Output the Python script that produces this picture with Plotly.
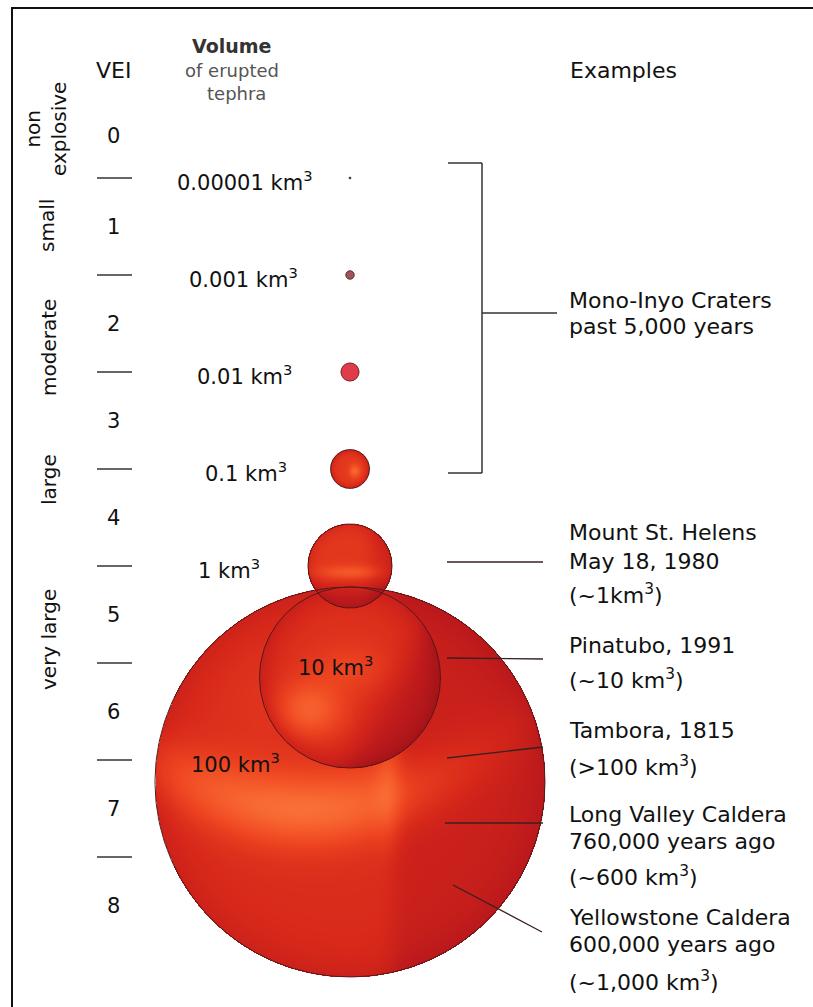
import numpy as np
import plotly.graph_objects as go

# ---------------- data ----------------
vei_levels = [0, 1, 2, 3, 4, 5, 6, 7, 8]
size_classes = ["non<br>explosive", "small", "moderate", "large", "very large"]
boundary_vei = [0.5, 1.5, 2.5, 3.5, 4.5, 5.5, 6.5, 7.5]
sphere_volumes_km3 = [0.00001, 0.001, 0.01, 0.1, 1, 10, 100]
volume_labels = ["0.00001 km<sup>3</sup>", "0.001 km<sup>3</sup>", "0.01 km<sup>3</sup>",
                 "0.1 km<sup>3</sup>", "1 km<sup>3</sup>", "10 km<sup>3</sup>", "100 km<sup>3</sup>"]
example_names = ["Mono-Inyo Craters", "Mount St. Helens", "Pinatubo, 1991",
                 "Tambora, 1815", "Long Valley Caldera", "Yellowstone Caldera"]
example_dates = ["past 5,000 years", "May 18, 1980", "", "", "760,000 years ago", "600,000 years ago"]
example_volumes = ["", "(~1km<sup>3</sup>)", "(~10 km<sup>3</sup>)", "(>100 km<sup>3</sup>)",
                   "(~600 km<sup>3</sup>)", "(~1,000 km<sup>3</sup>)"]
mono_inyo_vei_range = [0.5, 3.5]

# ---------------- layout helpers (pixel -> VEI units) ----------------
W, H = 813, 1007
U = 97.0          # pixels per VEI step
Y0 = 129.5        # pixel row of VEI 0
def xu(px): return px / U
def yu(py): return (py - Y0) / U

FONT = "DejaVu Sans"
INK = "#111111"
K = 42.0 / U      # radius of a 1 km3 sphere in VEI units (r ~ volume^(1/3))
def radius(v): return K * v ** (1.0 / 3.0)

CX = xu(350)
r1 = radius(1)
top_big = 4.5 + 0.5 * r1

def center_y(i, v):
    if v <= 1:
        return boundary_vei[i]
    return top_big + radius(v)

sig = lambda t: 1.0 / (1.0 + np.exp(-t))

def shade_big(u, v):
    rho2 = u * u + v * v
    z = 0.53 + 0.05 * np.exp(-((u + 0.4) ** 2 + (v + 0.45) ** 2) / 0.12)
    band_c = 0.14 - 0.35 * (u + 0.2) ** 2
    z = z + 0.40 * np.exp(-((v - band_c) / 0.19) ** 2) * np.exp(-((u + 0.25) / 0.8) ** 2)
    z = z + 0.14 * np.exp(-((u - 0.2) / 0.07) ** 2 - ((v + 0.05) / 0.35) ** 2)
    z = z - 0.13 * sig((u - 0.22) / 0.03)
    z = z - 0.12 * rho2 ** 4
    return z

def shade_ten(u, v):
    rho2 = u * u + v * v
    z = 0.56
    z = z + 0.30 * np.exp(-((u + 0.45) / 0.35) ** 2 - ((v - 0.35) / 0.3) ** 2)
    z = z + 0.12 * np.exp(-(u / 0.4) ** 2 - ((v + 0.1) / 0.25) ** 2)
    z = z - 0.25 * sig((u + 0.6 * v - 0.55) / 0.12)
    z = z - 0.18 * rho2 ** 3
    return z

def shade_one(u, v):
    rho2 = u * u + v * v
    z = 0.6
    z = z + 0.22 * np.exp(-((v - 0.15) / 0.16) ** 2 - (u / 0.7) ** 2)
    z = z - 0.28 * sig((v - 0.5) / 0.12)
    z = z - 0.1 * sig((u - 0.5) / 0.1)
    z = z - 0.12 * rho2 ** 3
    return z

def shade_tenth(u, v):
    rho2 = u * u + v * v
    return 0.6 + 0.3 * np.exp(-((u - 0.25) / 0.3) ** 2 - ((v - 0.1) / 0.35) ** 2) - 0.2 * rho2 ** 3

shaders = {0.1: shade_tenth, 1: shade_one, 10: shade_ten, 100: shade_big}

COLORSCALE = [[0.0, "rgb(140,15,20)"], [0.3, "rgb(188,25,28)"], [0.5, "rgb(215,40,26)"],
              [0.7, "rgb(238,70,33)"], [0.85, "rgb(246,95,45)"], [1.0, "rgb(252,122,62)"]]
OUTLINE = "rgb(85,25,25)"

fig = go.Figure()

# big shaded spheres, largest first
big_idx = [i for i, v in enumerate(sphere_volumes_km3) if v in shaders]
for i in sorted(big_idx, key=lambda k: -sphere_volumes_km3[k]):
    v = sphere_volumes_km3[i]
    r = radius(v)
    cy = center_y(i, v)
    n = int(np.ceil(2 * r * U)) + 2
    xs = np.linspace(CX - r, CX + r, n)
    ys = np.linspace(cy - r, cy + r, n)
    X, Y = np.meshgrid(xs, ys)
    uu, vv = (X - CX) / r, (Y - cy) / r
    z = np.clip(shaders[v](uu, vv), 0, 1)
    z[uu * uu + vv * vv > 1.0] = np.nan
    fig.add_trace(go.Heatmap(x=xs, y=ys, z=z.astype(np.float32), colorscale=COLORSCALE,
                             zmin=0, zmax=1, showscale=False, zsmooth=False, hoverinfo="skip"))
    t = np.linspace(0, 2 * np.pi, 240)
    fig.add_trace(go.Scatter(x=CX + r * np.cos(t), y=cy + r * np.sin(t), mode="lines",
                             line=dict(color=OUTLINE, width=1), hoverinfo="skip"))

shapes = []
# tiny spheres
tiny_style = {0.00001: ("rgb(90,60,60)", "rgb(60,40,40)"),
              0.001: ("rgb(160,85,90)", "rgb(95,45,45)"),
              0.01: ("rgb(222,60,75)", "rgb(125,30,35)")}
for i, v in enumerate(sphere_volumes_km3):
    if v in tiny_style:
        r = radius(v)
        cy = center_y(i, v)
        fc, lc = tiny_style[v]
        shapes.append(dict(type="circle", xref="x", yref="y", x0=CX - r, x1=CX + r,
                           y0=cy - r, y1=cy + r, fillcolor=fc, line=dict(color=lc, width=1)))

# VEI dividers
for b in boundary_vei:
    shapes.append(dict(type="line", xref="x", yref="y", x0=xu(97), x1=xu(132), y0=b, y1=b,
                       line=dict(color="#333", width=1.5)))

# bracket for Mono-Inyo
bt, bb = mono_inyo_vei_range[0] - 0.155, mono_inyo_vei_range[1] + 0.04
bm = (bt + bb) / 2 - 0.05
for (x0, y0, x1, y1) in [(448, bt, 482, bt), (482, bt, 482, bb), (448, bb, 482, bb), (482, bm, 557, bm)]:
    shapes.append(dict(type="line", xref="x", yref="y", x0=xu(x0), x1=xu(x1), y0=y0, y1=y1,
                       line=dict(color="#333", width=1.5)))

# pointer lines (pixel layout positions)
pointers = [((447, 562), (543, 562)), ((447, 658), (543, 659)), ((447, 758), (543, 747)),
            ((445, 823), (543, 823)), ((453, 885), (542, 932))]
for (a, b) in pointers:
    shapes.append(dict(type="line", xref="x", yref="y", x0=xu(a[0]), y0=yu(a[1]),
                       x1=xu(b[0]), y1=yu(b[1]), line=dict(color="#3a2020", width=1.3)))

# frame
shapes.append(dict(type="line", xref="x", yref="y", x0=xu(11), x1=xu(W), y0=yu(8), y1=yu(8),
                   line=dict(color="#111", width=2)))
shapes.append(dict(type="line", xref="x", yref="y", x0=xu(12), x1=xu(12), y0=yu(7), y1=yu(H),
                   line=dict(color="#111", width=2)))

ann = []
def text(px, py, s, size=21, color=INK, xanchor="center", angle=0):
    ann.append(dict(x=xu(px), y=yu(py), xref="x", yref="y", text=s, showarrow=False,
                    xanchor=xanchor, yanchor="middle", textangle=angle,
                    font=dict(family=FONT, size=size, color=color)))

# headers
text(113, 70, "VEI", 22)
text(231, 46, "<b>Volume</b>", 19, "#333")
text(232, 70, "of erupted", 18, "#555")
text(236, 93, "tephra", 18, "#555")
text(623, 70, "Examples", 22)

# size classes (rotated)
class_pos = [(46, 129), (47, 226), (49, 348), (49, 480), (49, 640)]
for s, (px, py) in zip(size_classes, class_pos):
    text(px, py, s, 20, INK, angle=-90)

# VEI numbers
for k in vei_levels:
    ann.append(dict(x=xu(113), y=k + (0.07 if k == 0 else 0), xref="x", yref="y", text=str(k),
                    showarrow=False, font=dict(family=FONT, size=21, color=INK)))

# volume labels
vol_label_x = [245, 243, 244, 246, 229, 335, 235]
for i, s in enumerate(volume_labels):
    ann.append(dict(x=xu(vol_label_x[i]), y=boundary_vei[i] + 0.03, xref="x", yref="y", text=s,
                    showarrow=False, xanchor="center", yanchor="middle",
                    font=dict(family=FONT, size=21, color=INK)))

# examples (pixel row of each text line)
ex_rows = [(300, 326, None), (532, 561, 594), (645, None, 679), (730, None, 766),
           (814, 841, 876), (917, 944, 981)]
for i, (r_name, r_date, r_vol) in enumerate(ex_rows):
    text(567, r_name, example_names[i], 22, INK, "left")
    if r_date is not None and example_dates[i]:
        text(567, r_date, example_dates[i], 22, INK, "left")
    if r_vol is not None and example_volumes[i]:
        text(567, r_vol, example_volumes[i], 22, INK, "left")

fig.update_layout(
    width=W, height=H, margin=dict(l=0, r=0, t=0, b=0),
    paper_bgcolor="white", plot_bgcolor="white", showlegend=False,
    xaxis=dict(range=[0, xu(W)], visible=False, fixedrange=True),
    yaxis=dict(range=[yu(H), yu(0)], visible=False, fixedrange=True),
    shapes=shapes, annotations=ann,
)

fig.write_html("out.html", config={"displayModeBar": False},
               post_script="document.body.style.margin='0';document.body.style.overflow='hidden';")
